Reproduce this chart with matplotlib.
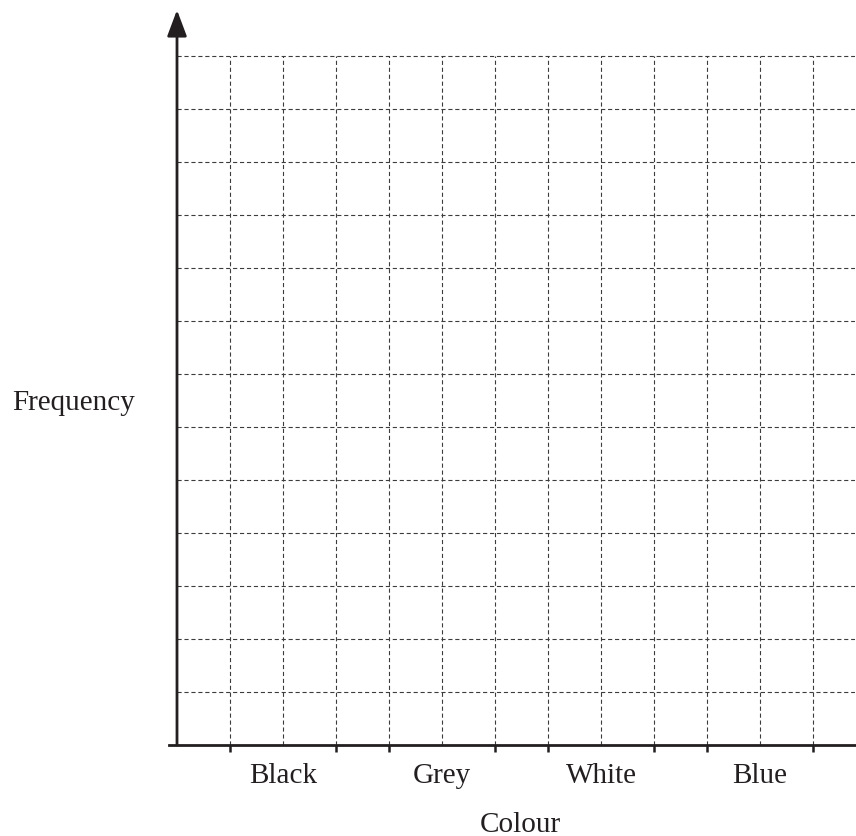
import matplotlib
matplotlib.use("Agg")
import matplotlib.pyplot as plt
import numpy as np

plt.rcParams["font.family"] = ["Liberation Serif", "DejaVu Serif"]
plt.rcParams["lines.scale_dashes"] = False

# blank bar-chart grid: four colours, each spanning two grid cells with a one-cell gap
categories = ["Black", "Grey", "White", "Blue"]
bar_starts = [1, 4, 7, 10]
bar_width = 2
n_cols = 12
n_rows = 13

AXIS = "#231f20"
GRID = "#3c3c3c"

W, H = 856, 837
fig = plt.figure(figsize=(W / 100, H / 100), dpi=100)

cell = 53.0
x0_px, y0_px = 177.0, 746.0  # origin in image pixels (y down)
left_px, right_px, top_px = 169.0, 855.0, 11.0
ax = fig.add_axes([left_px / W, (H - y0_px) / H, (right_px - left_px) / W, (y0_px - top_px) / H])
ax.set_xlim((left_px - x0_px) / cell, (right_px - x0_px) / cell)
ax.set_ylim(0, (y0_px - top_px) / cell)
ax.patch.set_alpha(0)

for name in ("top", "right", "left"):
    ax.spines[name].set_visible(False)
ax.spines["bottom"].set_color(AXIS)
ax.spines["bottom"].set_linewidth(2.0)
ax.spines["bottom"].set_zorder(5)

# dashed grid
dash = (0, (3.0, 2.0))
ax.vlines(np.arange(1, n_cols + 1), 0, n_rows, colors=GRID, linewidth=0.8, linestyles=[dash], zorder=1)
ax.hlines(np.arange(1, n_rows + 1), 0, ax.get_xlim()[1], colors=GRID, linewidth=0.8, linestyles=[dash], zorder=1)

# y axis with arrow head
ax.annotate("", xy=(0, ax.get_ylim()[1]), xytext=(0, 0),
            arrowprops=dict(arrowstyle="-|>,head_length=0.4,head_width=0.15", mutation_scale=40,
                            color=AXIS, lw=2.0, shrinkA=0, shrinkB=0),
            annotation_clip=False, zorder=6)

# category edge ticks and centred labels
starts = np.array(bar_starts, dtype=float)
edges = np.sort(np.concatenate([starts, starts + bar_width]))
centers = starts + bar_width / 2
ax.set_xticks(edges)
ax.set_xticklabels([])
ax.tick_params(axis="x", which="major", direction="out", length=5, width=1.8, color=AXIS)
ax.set_xticks(centers, minor=True)
ax.set_xticklabels(categories, minor=True, fontsize=21, color=AXIS)
ax.tick_params(axis="x", which="minor", length=0, pad=12)
ax.set_yticks([])

fig.text(520 / W, (H - 832) / H, "Colour", ha="center", va="baseline", fontsize=21, color=AXIS)
fig.text(73.5 / W, (H - 410) / H, "Frequency", ha="center", va="baseline", fontsize=21, color=AXIS)

fig.savefig("out.png", dpi=100)
